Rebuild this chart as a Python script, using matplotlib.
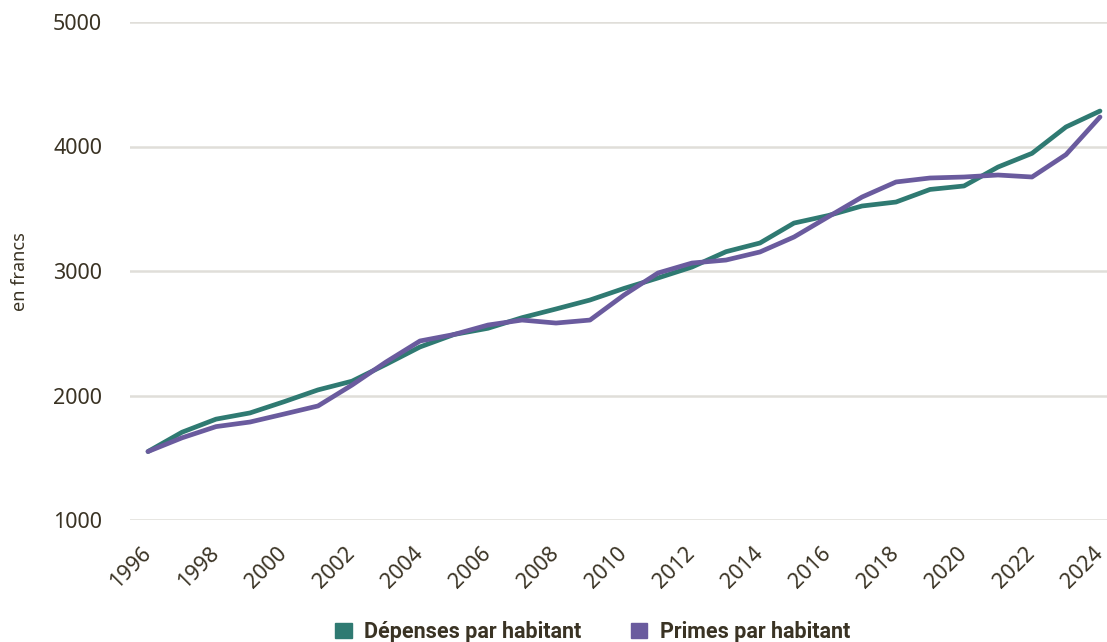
import matplotlib
matplotlib.use("Agg")
import matplotlib.pyplot as plt
from matplotlib.patches import Patch

# Data
years = list(range(1996, 2025))
depenses = [1550, 1705, 1810, 1860, 1950, 2045, 2115, 2250, 2390, 2490, 2540, 2625,
            2695, 2767, 2860, 2944, 3032, 3155, 3225, 3385, 3445, 3522, 3554, 3655,
            3683, 3835, 3945, 4157, 4285]
primes = [1550, 1660, 1750, 1787, 1851, 1916, 2084, 2269, 2438, 2490, 2566, 2606,
          2582, 2606, 2807, 2984, 3064, 3088, 3153, 3273, 3434, 3594, 3715, 3747,
          3755, 3771, 3755, 3935, 4237]
series_names = ["Dépenses par habitant", "Primes par habitant"]
y_ticks = [1000, 2000, 3000, 4000, 5000]
x_ticks = list(range(1996, 2025, 2))

GREEN = "#2f7a72"
PURPLE = "#6a5b9e"
TEXT = "#3a3324"
GRID = "#e0ded9"

fig = plt.figure(figsize=(11.07, 6.42), dpi=100)
ax = fig.add_axes([130 / 1107, 1 - 520 / 642, 977 / 1107, 498 / 642])

ax.plot(years, depenses, color=GREEN, lw=3.4, solid_capstyle="round", zorder=3)
ax.plot(years, primes, color=PURPLE, lw=3.4, solid_capstyle="round", zorder=4)

ax.set_ylim(1000, 5000)
ax.set_xlim(1996 - 18 / 34, 2024 + 7 / 34)
ax.set_yticks(y_ticks)
ax.set_xticks(x_ticks)
ax.set_xticklabels([str(y) for y in x_ticks], rotation=45, ha="right", va="center",
                   rotation_mode="anchor", fontsize=15.5, color=TEXT, family="Noto Sans")
ax.set_yticklabels([str(v) for v in y_ticks], fontsize=15.5, color=TEXT, family="Noto Sans")
ax.tick_params(axis="y", length=0, pad=20)
ax.tick_params(axis="x", length=0, pad=22)
ax.grid(axis="y", color=GRID, lw=1.8, zorder=0)
ax.set_axisbelow(True)
for s in ax.spines.values():
    s.set_visible(False)

fig.text(20 / 1107, 1 - 272 / 642, "en francs", rotation=90, ha="center", va="center",
         fontsize=13, color=TEXT, family="Noto Sans")

handles = [Patch(color=GREEN), Patch(color=PURPLE)]
leg = fig.legend(handles, series_names, loc="center", bbox_to_anchor=(593 / 1107, 1 - 632 / 642),
                 ncol=2, frameon=False, handlelength=0.75, handleheight=0.75, handletextpad=0.6,
                 columnspacing=2.3, prop={"family": "Roboto", "weight": "bold", "size": 15.5})
for t in leg.get_texts():
    t.set_color(TEXT)

fig.savefig("out.png", dpi=100)
